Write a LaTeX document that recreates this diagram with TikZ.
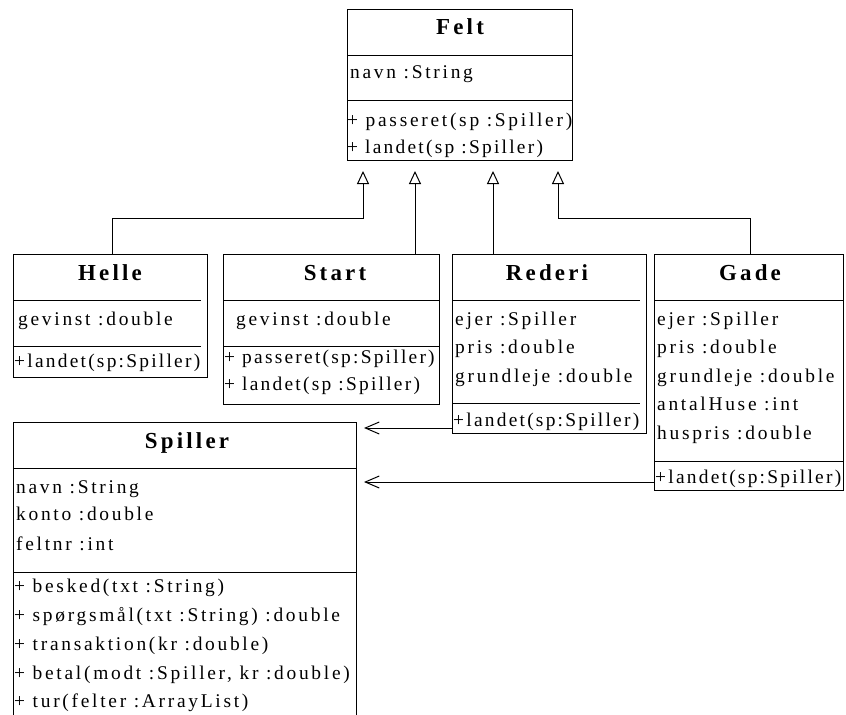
\documentclass[tikz,border=0pt]{standalone}
\usepackage{fontspec}
\usetikzlibrary{arrows.meta}
\newfontfamily\bodyfam[LetterSpace=14]{Liberation Serif}
\newfontfamily\tightfam[LetterSpace=11.5]{Liberation Serif}
\newfontfamily\titlefam[LetterSpace=14]{Liberation Serif}
\newcommand{\bodyfont}{\bodyfam\fontsize{19.5pt}{21pt}\selectfont}
\newcommand{\tightfont}{\tightfam\fontsize{19.5pt}{21pt}\selectfont}
\newcommand{\titlefont}{\titlefam\bfseries\fontsize{23pt}{25pt}\selectfont}

\tikzset{
  classbox/.style={draw, line width=1bp, inner sep=0pt, anchor=north west},
  ttl/.style={anchor=base, font=\titlefont, inner sep=0pt},
  txt/.style={anchor=base west, font=\bodyfont, inner sep=0pt},
  tighttxt/.style={anchor=base west, font=\tightfont, inner sep=0pt},
  sepline/.style={line width=1bp},
  gen/.style={line width=1bp, -{Triangle[open, length=13bp, width=12bp]}, shorten >=10bp},
  assoc/.style={line width=1bp, -{Straight Barb[length=14bp, width=12bp]}, shorten >=7bp},
}

\begin{document}
\begin{tikzpicture}[x=1bp, y=-1bp]
\useasboundingbox (0,0) rectangle (846,715);
\fill[white] (0,0) rectangle (846,715);
\begin{scope}
\clip (0,0) rectangle (846,715);

% ---- Felt ----
\node[classbox, minimum width=225bp, minimum height=151bp] (felt) at (347,9) {};
\draw[sepline] (felt.west |- 0,56) -- (felt.east |- 0,56);
\draw[sepline] (felt.west |- 0,101) -- (felt.east |- 0,101);
\node[ttl] (feltT) at (460,35) {Felt};
\node[txt] (feltA1) at (350,79) {navn :String};
\node[txt] (feltM1) at (347,127) {+ passeret(sp :Spiller)};
\node[tighttxt] (feltM2) at (347,154) {+ landet(sp :Spiller)};

% ---- Helle ----
\node[classbox, minimum width=194bp, minimum height=123bp] (helle) at (13,254) {};
\draw[sepline] (helle.west |- 0,300) -- (201,300);
\draw[sepline] (helle.west |- 0,346) -- (201,346);
\node[ttl] (helleT) at (110,280) {Helle};
\node[txt] (helleA1) at (18,325) {gevinst :double};
\node[tighttxt] (helleM1) at (14,367) {+landet(sp:Spiller)};

% ---- Start ----
\node[classbox, minimum width=216bp, minimum height=150bp] (start) at (223,254) {};
\draw[sepline] (start.west |- 0,300) -- (start.east |- 0,300);
\draw[sepline] (start.west |- 0,346) -- (start.east |- 0,346);
\node[ttl] (startT) at (335,280) {Start};
\node[txt] (startA1) at (236,325) {gevinst :double};
\node[tighttxt] (startM1) at (224,363) {+ passeret(sp:Spiller)};
\node[tighttxt] (startM2) at (224,390) {+ landet(sp :Spiller)};

% ---- Rederi ----
\node[classbox, minimum width=194bp, minimum height=179bp] (rederi) at (452,254) {};
\draw[sepline] (rederi.west |- 0,300) -- (640,300);
\draw[sepline] (rederi.west |- 0,403) -- (640,403);
\node[ttl] (rederiT) at (547,280) {Rederi};
\node[txt] (rederiA1) at (455,325) {ejer :Spiller};
\node[txt] (rederiA2) at (455,353) {pris :double};
\node[txt] (rederiA3) at (455,382) {grundleje :double};
\node[tighttxt] (rederiM1) at (453,426) {+landet(sp:Spiller)};

% ---- Gade ----
\node[classbox, minimum width=189bp, minimum height=236bp] (gade) at (654,254) {};
\draw[sepline] (gade.west |- 0,300) -- (gade.east |- 0,300);
\draw[sepline] (gade.west |- 0,461) -- (gade.east |- 0,461);
\node[ttl] (gadeT) at (750,280) {Gade};
\node[txt] (gadeA1) at (657,325) {ejer :Spiller};
\node[txt] (gadeA2) at (657,353) {pris :double};
\node[txt] (gadeA3) at (657,382) {grundleje :double};
\node[txt] (gadeA4) at (657,410) {antalHuse :int};
\node[txt] (gadeA5) at (657,439) {huspris :double};
\node[tighttxt] (gadeM1) at (655,483) {+landet(sp:Spiller)};

% ---- Spiller (continues below the page edge) ----
\node[classbox, minimum width=343bp, minimum height=320bp] (spiller) at (13,422) {};
\draw[sepline] (spiller.west |- 0,468) -- (spiller.east |- 0,468);
\draw[sepline] (spiller.west |- 0,572) -- (spiller.east |- 0,572);
\node[ttl] (spillerT) at (187,448) {Spiller};
\node[txt] (spillerA1) at (16,493) {navn :String};
\node[txt] (spillerA2) at (16,520) {konto :double};
\node[txt] (spillerA3) at (16,550) {feltnr :int};
\node[txt] (spillerM1) at (14,592) {+ besked(txt :String)};
\node[txt] (spillerM2) at (14,621) {+ spørgsmål(txt :String) :double};
\node[txt] (spillerM3) at (14,650) {+ transaktion(kr :double)};
\node[txt] (spillerM4) at (14,679) {+ betal(modt :Spiller, kr :double)};
\node[txt] (spillerM5) at (14,707) {+ tur(felter :ArrayList)};
\end{scope}

% ---- generalisations to Felt ----
\draw[gen] (helle.north -| 112,0) -- (112,218) -| (felt.south -| 363,0);
\draw[gen] (start.north -| 415,0) -- (felt.south -| 415,0);
\draw[gen] (rederi.north -| 493,0) -- (felt.south -| 493,0);
\draw[gen] (gade.north -| 750,0) -- (750,218) -| (felt.south -| 558,0);

% ---- associations to Spiller ----
\draw[assoc] (rederi.west |- 0,428) -- (spiller.east |- 0,428);
\draw[assoc] (gade.west |- 0,482) -- (spiller.east |- 0,482);
\end{tikzpicture}
\end{document}
